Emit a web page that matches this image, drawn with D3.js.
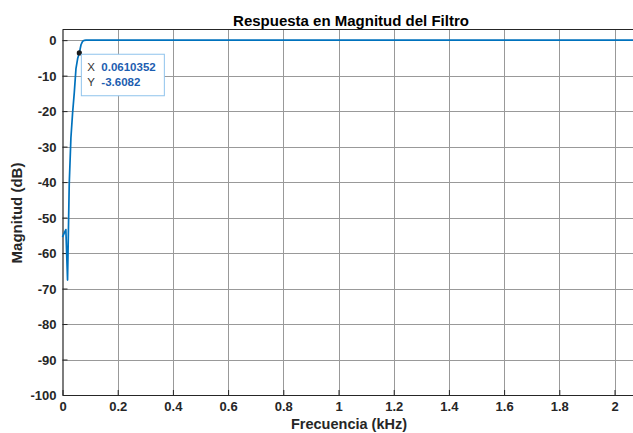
<!DOCTYPE html>
<html>
<head>
<meta charset="utf-8">
<script src="https://cdn.jsdelivr.net/npm/d3@7"></script>
<style>
  html, body { margin: 0; padding: 0; background: #fff; }
  svg { display: block; font-family: "Liberation Sans", Arial, sans-serif; }
</style>
</head>
<body>
<svg id="chart" width="633" height="433"></svg>
<script>
// Frequency response samples (kHz, dB)
const freqKHz = [0, 0.0061, 0.0122, 0.0183, 0.0244, 0.0305, 0.0366, 0.0427, 0.0488, 0.0549,
                 0.0610352, 0.0671, 0.0732, 0.0793, 0.0854, 0.0916, 0.0977, 0.2, 0.5, 1.0, 1.5, 2.0, 2.067];
const magDB   = [-55.5, -54.4, -53.4, -67.6, -40.5, -27.5, -20.5, -14.8, -8.0, -5.2,
                 -3.6082, -1.3, -0.3, -0.05, 0, 0, 0, 0, 0, 0, 0, 0, 0];

const xTicks = [0, 0.2, 0.4, 0.6, 0.8, 1, 1.2, 1.4, 1.6, 1.8, 2];
const xTickLabels = ["0", "0.2", "0.4", "0.6", "0.8", "1", "1.2", "1.4", "1.6", "1.8", "2"];
const yTicks = [-100, -90, -80, -70, -60, -50, -40, -30, -20, -10, 0];

// Marked point
const tipX = 0.0610352;
const tipY = -3.6082;

const svg = d3.select("#chart");
const plotL = 62.5, plotR = 633, plotT = 29.5, plotB = 395;

const x = d3.scaleLinear().domain([0, 2.067]).range([plotL, plotR]);
const y = d3.scaleLinear().domain([-100, 3]).range([plotB, plotT]);

const axisColor = "#262626";
const gridColor = "#999999";

// grid
svg.append("g").selectAll("line").data(xTicks.slice(1)).join("line")
  .attr("x1", d => Math.round(x(d)) + 0.5).attr("x2", d => Math.round(x(d)) + 0.5)
  .attr("y1", plotT).attr("y2", plotB)
  .attr("stroke", gridColor).attr("stroke-width", 1);
svg.append("g").selectAll("line").data(yTicks.slice(1)).join("line")
  .attr("y1", d => Math.round(y(d)) + 0.5).attr("y2", d => Math.round(y(d)) + 0.5)
  .attr("x1", plotL).attr("x2", plotR)
  .attr("stroke", gridColor).attr("stroke-width", 1);

// axes
const xAxis = d3.axisBottom(x).tickValues(xTicks)
  .tickFormat((d, i) => xTickLabels[i]).tickSizeInner(-5).tickSizeOuter(0).tickPadding(7);
const yAxis = d3.axisLeft(y).tickValues(yTicks)
  .tickFormat(d => String(d)).tickSizeInner(-5).tickSizeOuter(0).tickPadding(6);

const gx = svg.append("g").attr("transform", `translate(0,${plotB})`).call(xAxis);
const gy = svg.append("g").attr("transform", `translate(${plotL},0)`).call(yAxis);
[gx, gy].forEach(g => {
  g.select(".domain").attr("stroke", axisColor).attr("stroke-width", 1.2);
  g.selectAll(".tick line").attr("stroke", axisColor);
  g.selectAll(".tick text").attr("fill", axisColor)
    .attr("font-size", 13).attr("font-weight", "bold")
    .attr("font-family", "Liberation Sans, Arial, sans-serif");
});
gx.selectAll(".tick text").attr("dy", "0.71em");
gy.selectAll(".tick text").attr("dy", "0.36em");

// top box edge
svg.append("line").attr("x1", plotL).attr("x2", plotR).attr("y1", plotT).attr("y2", plotT)
  .attr("stroke", axisColor).attr("stroke-width", 1.2);

// response curve
const pts = freqKHz.map((f, i) => [f, magDB[i]]);
svg.append("path").datum(pts)
  .attr("fill", "none").attr("stroke", "#0072BD").attr("stroke-width", 1.7)
  .attr("stroke-linejoin", "round")
  .attr("d", d3.line().x(d => x(d[0])).y(d => y(d[1])));

// data tip
svg.append("circle").attr("cx", x(tipX)).attr("cy", y(tipY)).attr("r", 2.6)
  .attr("fill", "#1a1a1a");
const bx = x(tipX) + 1.5, by = y(tipY) + 0.8;
const tip = svg.append("g").attr("transform", `translate(${bx},${by})`);
tip.append("rect").attr("x", 0.5).attr("y", 0.5).attr("width", 83).attr("height", 41.5)
  .attr("fill", "#fff").attr("stroke", "#8fc3ec").attr("stroke-width", 1);
const rows = [["X", String(tipX)], ["Y", String(tipY)]];
rows.forEach((r, i) => {
  tip.append("text").attr("x", 6.5).attr("y", 17 + i * 15).text(r[0])
    .attr("font-size", 11.5).attr("fill", "#333");
  tip.append("text").attr("x", 20.5).attr("y", 17 + i * 15).text(r[1])
    .attr("font-size", 11.5).attr("font-weight", "bold").attr("fill", "#1c5db0");
});

// titles
svg.append("text").attr("x", 351).attr("y", 25.5).attr("text-anchor", "middle")
  .attr("font-size", 15).attr("font-weight", "bold").attr("fill", "#000")
  .text("Respuesta en Magnitud del Filtro");
svg.append("text").attr("x", 349).attr("y", 429).attr("text-anchor", "middle")
  .attr("font-size", 14.5).attr("font-weight", "bold").attr("fill", axisColor)
  .text("Frecuencia (kHz)");
svg.append("text").attr("transform", `translate(22,213) rotate(-90)`).attr("text-anchor", "middle")
  .attr("font-size", 15).attr("font-weight", "bold").attr("fill", axisColor)
  .text("Magnitud (dB)");
</script>
</body>
</html>
